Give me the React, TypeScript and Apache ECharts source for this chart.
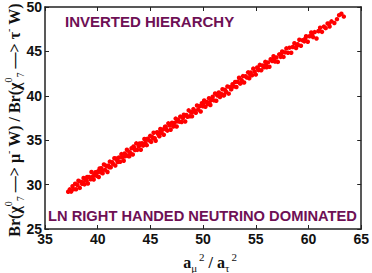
import React, { useEffect, useRef } from "react";
import * as echarts from "echarts";

const xTicks = [35, 40, 45, 50, 55, 60, 65];
const yTicks = [25, 30, 35, 40, 45, 50];

const pointsA: [number, number][] = [
  [37.2, 29.2], [37.35, 29.46], [37.48, 29.21], [37.61, 29.81], [37.7, 29.48], [37.86, 30.1], [37.95, 29.47],
  [38.08, 29.96], [38.17, 30.43], [38.3, 29.63], [38.41, 30.31], [38.52, 30.1], [38.66, 30.75], [38.74, 30.02],
  [38.89, 30.53], [39.0, 30.86], [39.07, 30.12], [39.19, 30.86], [39.33, 30.61], [39.41, 31.42], [39.55, 30.93],
  [39.62, 30.58], [39.78, 31.4], [39.9, 30.99], [39.98, 31.4], [40.1, 30.85], [40.18, 31.81], [40.29, 31.39],
  [40.4, 31.62], [40.47, 31.28], [40.59, 32.27], [40.71, 31.66], [40.8, 32.13], [40.93, 31.42], [41.02, 32.14],
  [41.15, 32.59], [41.24, 31.96], [41.37, 32.51], [41.46, 32.33], [41.58, 32.97], [41.67, 32.14], [41.81, 32.79],
  [41.89, 32.55], [38.95, 30.42], [39.7, 31.14], [40.35, 31.84], [41.1, 31.95], [40.05, 31.51], [38.6, 30.26],
  [41.75, 32.95],
];

const pointsB: [number, number][] = [
  [42.02, 33.05], [42.13, 32.58], [42.25, 33.43], [42.34, 33.04], [42.47, 32.69], [42.56, 33.51], [42.68, 33.35],
  [42.77, 33.92], [42.9, 33.22], [42.99, 33.69], [43.12, 33.54], [43.21, 34.1], [43.33, 33.39], [43.45, 34.14],
  [43.54, 33.9], [43.66, 34.64], [43.75, 33.91], [43.88, 34.31], [43.97, 34.63], [44.09, 33.92], [44.2, 34.65],
  [44.31, 34.39], [44.43, 35.13], [44.52, 34.7], [44.65, 34.44], [44.74, 35.16], [44.86, 35.0], [44.98, 35.49],
  [45.07, 34.81], [45.19, 35.35], [45.3, 35.84], [45.41, 35.22], [45.5, 34.94], [45.63, 35.89], [45.72, 35.71],
  [45.85, 35.45], [45.94, 36.27], [46.06, 35.81], [46.18, 36.2], [46.27, 35.62], [46.39, 36.51], [46.48, 36.23],
  [46.61, 36.08], [46.7, 36.9], [46.83, 36.65], [46.92, 36.17], [42.6, 33.19], [43.4, 34.3], [44.0, 34.45],
  [44.55, 35.07], [45.25, 35.2], [45.9, 35.89], [46.45, 36.51], [43.0, 33.19],
];

const pointsC: [number, number][] = [
  [47.05, 36.96], [47.17, 36.55], [47.28, 36.94], [47.4, 37.43], [47.49, 36.55], [47.62, 37.3], [47.74, 37.09],
  [47.83, 37.66], [47.96, 37.05], [48.08, 37.49], [48.17, 37.86], [48.3, 37.11], [48.41, 37.84], [48.52, 37.63],
  [48.63, 38.36], [48.75, 37.7], [48.86, 38.14], [48.95, 37.7], [49.08, 38.5], [49.19, 38.29], [49.31, 38.08],
  [49.42, 38.91], [49.53, 38.44], [49.65, 38.83], [49.77, 38.23], [49.88, 39.16], [49.97, 38.83], [50.1, 39.48],
  [50.22, 38.77], [50.33, 39.3], [50.44, 39.08], [50.56, 39.72], [50.69, 38.97], [50.78, 39.54], [50.91, 39.89],
  [51.03, 39.48], [51.14, 40.26], [51.25, 39.45], [51.37, 40.04], [51.49, 40.38], [51.6, 39.86], [51.72, 40.2],
  [51.84, 40.74], [51.95, 40.03], [52.07, 40.67], [52.18, 40.45], [52.31, 41.05], [52.43, 40.24], [52.55, 40.98],
  [52.66, 40.72], [52.79, 41.31], [52.9, 41.05], [47.55, 37.14], [48.25, 37.77], [49.0, 38.19], [50.0, 39.1],
  [50.6, 39.25], [51.3, 40.14], [52.0, 40.12],
];

const pointsD: [number, number][] = [
  [53.04, 41.55], [53.16, 40.99], [53.28, 41.59], [53.41, 42.03], [53.52, 41.37], [53.65, 41.77], [53.78, 42.22],
  [53.89, 41.5], [54.02, 42.2], [54.15, 42.05], [54.27, 42.64], [54.38, 41.97], [54.51, 42.62], [54.64, 42.32],
  [54.76, 43.06], [54.89, 42.71], [55.0, 42.39], [55.13, 43.19], [55.26, 42.89], [55.38, 43.48], [55.51, 42.88],
  [55.63, 43.42], [55.77, 43.22], [55.9, 43.82], [56.02, 43.21], [56.15, 43.76], [56.29, 43.27], [56.41, 44.11],
  [56.55, 43.92], [56.68, 44.46], [56.82, 43.87], [56.95, 44.32], [57.09, 43.82], [57.22, 44.67], [57.36, 44.38],
  [57.5, 44.99], [57.63, 44.38], [57.77, 44.89], [57.9, 45.34], [53.7, 41.55], [54.45, 42.42], [55.2, 43.04],
  [55.95, 43.46], [56.7, 44.08], [57.4, 44.66],
];

const pointsE: [number, number][] = [
  [58.05, 44.85], [58.2, 45.42], [58.36, 44.84], [58.51, 45.5], [58.66, 45.91], [58.82, 45.39], [58.97, 45.8],
  [59.13, 46.32], [59.28, 45.63], [59.44, 46.26], [59.6, 46.13], [59.77, 46.71], [59.93, 46.08], [60.1, 46.71],
  [60.26, 47.13], [60.43, 46.61], [60.58, 47.17], [60.76, 46.46], [60.93, 47.28], [61.1, 47.66], [61.28, 47.2],
  [61.46, 47.79], [61.63, 47.62], [61.81, 48.15], [62.0, 47.8], [62.18, 48.38], [62.45, 48.19], [62.7, 48.63],
  [62.9, 49.08], [63.12, 49.24], [63.35, 48.92], [58.9, 45.65], [59.7, 46.45], [60.35, 46.8], [61.0, 47.29],
  [61.95, 48.11],
];

const titleTop = "INVERTED HIERARCHY";
const titleBottom = "LN RIGHT HANDED NEUTRINO DOMINATED";

export default function App() {
  const ref = useRef<HTMLDivElement>(null);
  useEffect(() => {
    if (!ref.current) return;
    const chart = echarts.init(ref.current, undefined, { renderer: "svg" });
    const data = [...pointsA, ...pointsB, ...pointsC, ...pointsD, ...pointsE];
    const axisLine = { show: true, onZero: false, lineStyle: { color: "#222", width: 1.5 } };
    const axisTick = { show: true, inside: true, length: 4, lineStyle: { color: "#222", width: 1 } };
    const labelStyle = { fontSize: 14, fontWeight: "bold" as const, color: "#111", fontFamily: "Liberation Sans, Arial, sans-serif" };
    const serif = "Liberation Serif, Times New Roman, serif";
    const purple = "#6e1055";
    chart.setOption({
      animation: false,
      backgroundColor: "#fff",
      grid: { left: 45, right: 9, top: 5, bottom: 44 },
      xAxis: [
        {
          type: "value", min: xTicks[0], max: xTicks[xTicks.length - 1], interval: 5, position: "bottom",
          axisLine, axisTick, splitLine: { show: false },
          axisLabel: { ...labelStyle, margin: 3 },
        },
        {
          type: "value", min: xTicks[0], max: xTicks[xTicks.length - 1], interval: 5, position: "top",
          axisLine, axisTick, splitLine: { show: false }, axisLabel: { show: false },
        },
      ],
      yAxis: [
        {
          type: "value", min: yTicks[0], max: yTicks[yTicks.length - 1], interval: 5, position: "left",
          axisLine, axisTick, splitLine: { show: false },
          axisLabel: { ...labelStyle, margin: 3 },
        },
        {
          type: "value", min: yTicks[0], max: yTicks[yTicks.length - 1], interval: 5, position: "right",
          axisLine, axisTick, splitLine: { show: false }, axisLabel: { show: false },
        },
      ],
      series: [
        {
          type: "scatter",
          data,
          symbol: "circle",
          symbolSize: 4.5,
          itemStyle: { color: "#ff0000", opacity: 1 },
        },
      ],
      graphic: [
        {
          type: "text", left: 65, top: 14,
          style: { text: titleTop, fill: purple, font: "bold 15px Liberation Sans, Arial, sans-serif" },
        },
        {
          type: "text", left: 48, top: 208,
          style: { text: titleBottom, fill: purple, font: "bold 14.7px Liberation Sans, Arial, sans-serif" },
        },
        {
          type: "text", x: 210, y: 262,
          style: {
            text: "{m|a}{b|μ}{s|2}{m| / a}{b|τ}{s|2}",
            align: "center", verticalAlign: "middle", fill: "#111",
            rich: {
              m: { fontSize: 16, fontWeight: "bold", fontFamily: serif, fill: "#111", lineHeight: 22 },
              s: { fontSize: 11, fontFamily: serif, fill: "#111", lineHeight: 12, verticalAlign: "top", padding: [0, 0, 0, 2] },
              b: { fontSize: 11, fontFamily: serif, fill: "#111", lineHeight: 12, verticalAlign: "bottom" },
            },
          },
        },
        {
          type: "text", x: 14, y: 120, rotation: Math.PI / 2,
          style: {
            text: "{m|Br(χ}{s|0}{b|7}{m| —> μ}{s|-}{m| W) / Br(χ}{s|0}{b|7}{m| —> τ}{s|-}{m| W)}",
            align: "center", verticalAlign: "middle", fill: "#111",
            rich: {
              m: { fontSize: 16, fontWeight: "bold", fontFamily: serif, fill: "#111", lineHeight: 22 },
              s: { fontSize: 10, fontFamily: serif, fill: "#111", lineHeight: 12, verticalAlign: "top" },
              b: { fontSize: 10, fontFamily: serif, fill: "#111", lineHeight: 12, verticalAlign: "bottom" },
            },
          },
        },
      ],
    });
    return () => chart.dispose();
  }, []);
  return <div ref={ref} style={{ width: 372, height: 273, position: "absolute", left: 0, top: 0 }} />;
}
